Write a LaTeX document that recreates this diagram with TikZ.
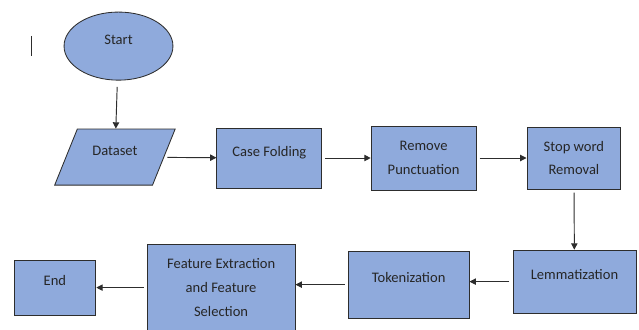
\documentclass[tikz,border=0pt]{standalone}
\usepackage{fontspec}
\setmainfont{Carlito}
\usepackage{xcolor}
\usetikzlibrary{arrows.meta,shapes.geometric}
\definecolor{boxfill}{RGB}{143,170,220}
\definecolor{edge}{RGB}{45,45,45}
\definecolor{ink}{RGB}{38,38,38}

\begin{document}
\begin{tikzpicture}[
		step box/.style={draw=edge, line width=0.8pt, fill=boxfill, text=ink,
		             font=\fontsize{13.8}{22.5}\selectfont, align=center, inner sep=2pt},
		raised/.style={text height=0.35cm, text depth=0.46cm},
		flow/.style={draw=edge, line width=0.9pt, -{Triangle[length=6pt,width=6pt]},
		             shorten <=3pt}]
		\useasboundingbox (0,0) rectangle (21.3,10.967);
		% top row
		\node[step box, raised, ellipse, minimum width=3.63cm, minimum height=2.27cm] (start) at (3.95,9.43) {Start};
		\node[step box, raised, trapezium, trapezium left angle=68, trapezium right angle=112,
		      inner xsep=0.5cm, inner ysep=0.53cm] (data) at (3.83,5.73) {Dataset};
		\node[step box, raised, minimum width=3.5cm, minimum height=2.0cm] (fold) at (8.98,5.7) {Case Folding};
		\node[step box, minimum width=3.5cm, minimum height=2.13cm] (punct) at (14.12,5.7) {Remove\\Punctuation};
		\node[step box, minimum width=3.13cm, minimum height=2.07cm] (stop) at (19.13,5.7) {Stop word\\Removal};
		% bottom row, right to left
		\node[step box, raised, minimum width=4.1cm, minimum height=2.1cm] (lemma) at (19.15,1.58) {Lemmatization};
		\node[step box, raised, minimum width=4.03cm, minimum height=2.23cm] (token) at (13.62,1.48) {Tokenization};
		\node[step box, minimum width=4.93cm, minimum height=2.9cm] (feat) at (7.37,1.38) {Feature Extraction\\and Feature\\Selection};
		\node[step box, raised, minimum width=2.73cm, minimum height=1.83cm] (end) at (1.83,1.38) {End};
		% arrows
		\draw[flow, shorten <=6pt] (start) -- (data);
		\draw[flow] (data) -- (fold);
		\draw[flow] (fold) -- (punct);
		\draw[flow] (punct) -- (stop);
		\draw[flow] (stop) -- (lemma);
		\draw[flow] (lemma.west) -- (lemma.west -| token.east);
		\draw[flow] (token.west) -- (token.west -| feat.east);
		\draw[flow] (feat.west |- end) -- (end);
		% cursor mark
		\draw[edge, line width=0.7pt] (1.03,9.77) -- (1.03,9.1);
	\end{tikzpicture}
\end{document}
